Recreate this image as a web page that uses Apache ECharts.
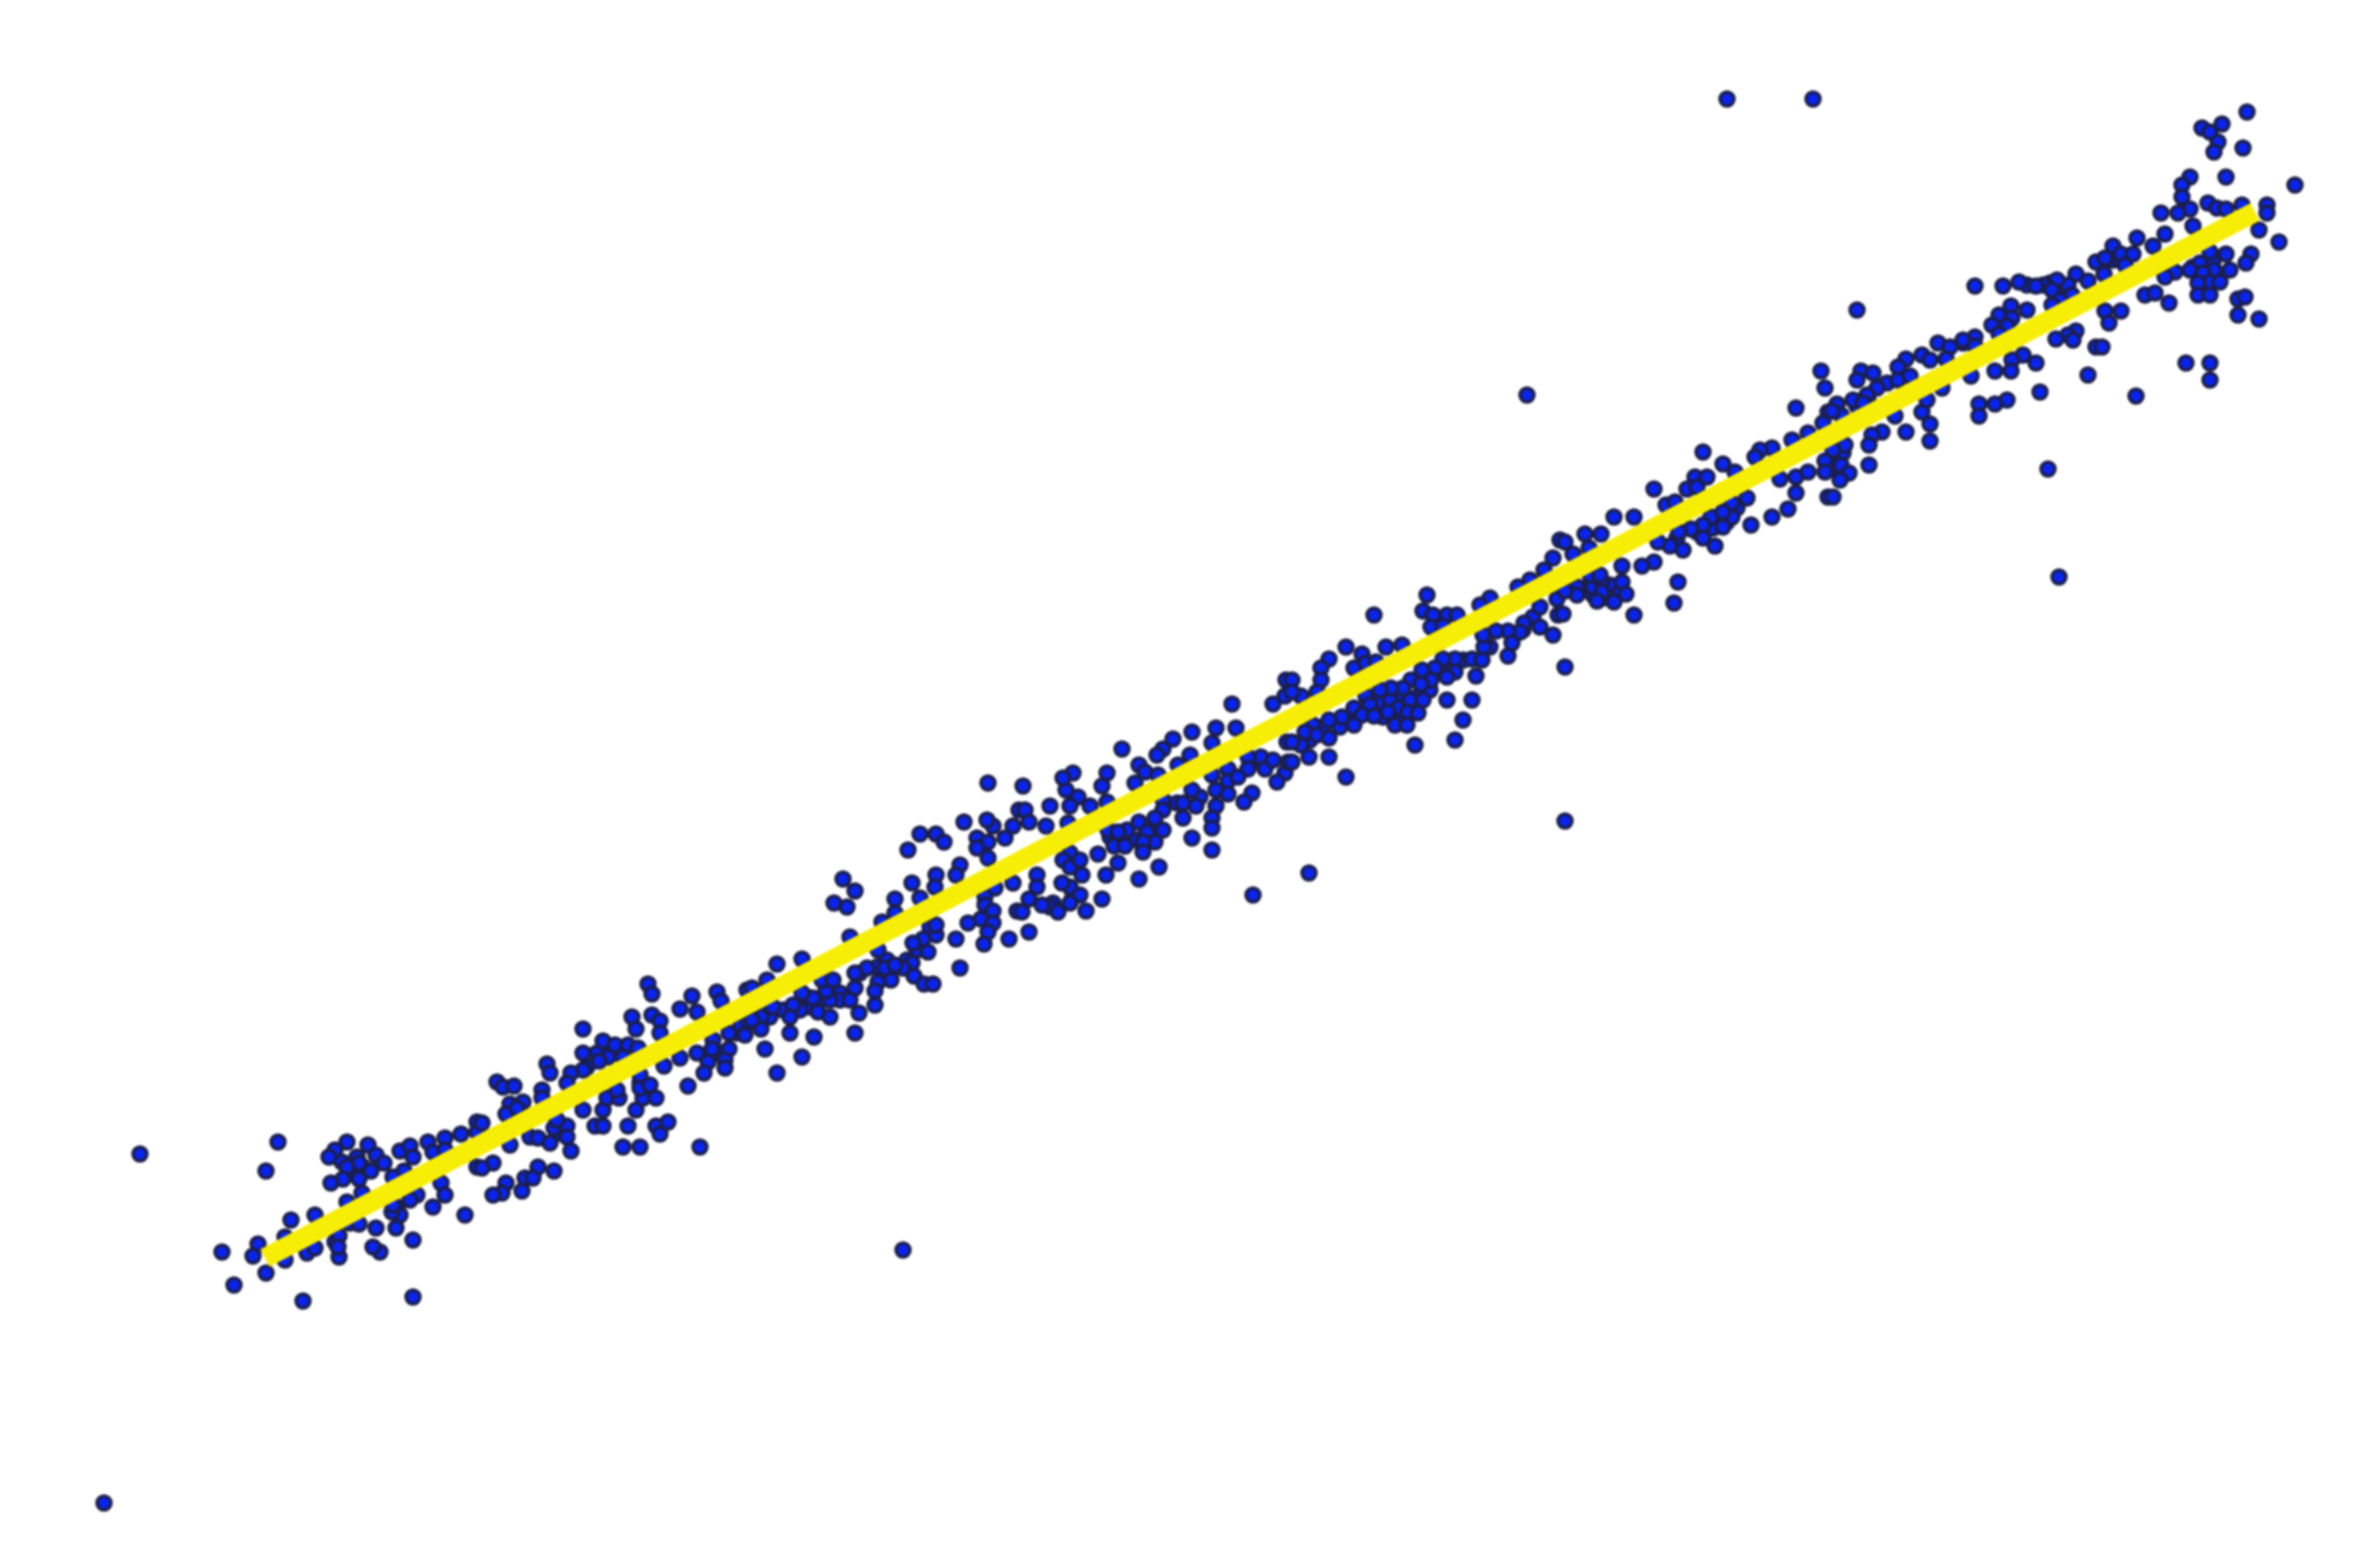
<!DOCTYPE html>
<html>
<head>
<meta charset="utf-8">
<style>
html,body{margin:0;padding:0;background:#fff;}
#chart{width:2357px;height:1559px;filter:blur(1.2px);}
</style>
<script src="https://cdn.jsdelivr.net/npm/echarts@6/dist/echarts.min.js"></script>
</head>
<body>
<div id="chart"></div>
<script>
var outliers=[[278,1142],[266,1171],[222,1252],[234,1285],[303,1301],[413,1297],[140,1154],[104,1503],[903,1250],[1309,873],[1565,667],[1565,821],[1527,395],[1727,99],[1813,99],[2059,577],[2136,396],[2048,469]];
var band1=[[347,1142],[335,1150],[329,1157],[368,1145],[376,1155],[384,1163],[359,1163],[347,1167],[371,1171],[359,1179],[343,1179],[331,1183],[400,1151],[410,1146],[413,1157],[428,1142],[433,1152],[445,1138],[445,1150],[461,1134],[477,1122],[477,1132],[404,1171],[393,1177],[441,1183],[445,1195],[417,1195],[410,1200],[433,1207],[465,1215],[477,1167],[362,1193],[347,1202],[400,1215],[392,1212],[393,1205],[396,1228],[376,1228],[359,1224],[339,1236],[413,1240],[380,1252],[373,1247],[339,1257],[338,1247],[307,1253],[315,1248],[315,1215],[291,1220],[285,1237],[258,1244],[253,1256],[266,1273],[285,1260]];
var band2=[[648,984],[652,994],[692,996],[680,1009],[697,1012],[717,992],[721,1001],[747,990],[632,1017],[636,1029],[652,1015],[660,1021],[660,1033],[583,1029],[603,1041],[615,1045],[628,1045],[638,1048],[623,1057],[608,1057],[599,1061],[583,1053],[583,1070],[571,1073],[567,1083],[547,1064],[550,1073],[497,1082],[503,1087],[514,1086],[542,1090],[542,1098],[523,1102],[510,1104],[506,1114],[517,1108],[482,1123],[510,1145],[493,1163],[482,1168],[538,1167],[554,1171],[525,1178],[533,1178],[506,1183],[502,1193],[493,1195],[522,1191],[538,1138],[550,1143],[554,1128],[567,1126],[567,1137],[557,1120],[571,1151],[583,1110],[595,1126],[603,1126],[603,1110],[607,1098],[619,1098],[617,1090],[628,1126],[636,1110],[643,1098],[656,1098],[640,1088],[650,1085],[640,1075],[656,1126],[668,1122],[660,1134],[623,1147],[640,1147],[700,1147],[688,1086],[664,1066],[680,1058],[697,1053],[712,1049],[729,1049],[708,1062],[725,1060],[725,1068],[704,1073],[729,1033],[741,1025],[745,1035],[748,1022]];
var band3=[[988,783],[964,822],[993,826],[987,820],[1013,826],[1019,810],[920,834],[936,834],[944,842],[908,850],[977,838],[988,842],[1005,838],[977,848],[988,858],[960,865],[956,875],[936,875],[935,887],[912,883],[920,898],[895,899],[843,879],[855,891],[834,903],[847,907],[1013,883],[995,888],[985,897],[985,905],[993,911],[981,919],[968,923],[993,923],[1017,911],[988,932],[956,939],[984,944],[1009,939],[960,968],[936,935],[936,925],[923,939],[913,943],[928,952],[912,963],[903,968],[914,976],[924,984],[933,984],[891,980],[885,968],[878,950],[867,968],[855,973],[878,982],[875,991],[875,1005],[855,988],[850,1000],[859,1013],[855,1033],[830,1000],[826,991],[822,980],[833,980],[813,998],[818,1012],[830,1017],[814,1037],[802,993],[793,1005],[790,1017],[790,1033],[773,1007],[761,1017],[761,1029],[752,1020],[765,1049],[802,1057],[777,1073],[777,964],[802,959],[767,980],[752,988],[895,965],[882,922],[850,937],[895,913]];
var band4=[[1286,680],[1285,696],[1273,704],[1232,704],[1236,728],[1216,728],[1192,732],[1212,743],[1173,739],[1163,749],[1157,755],[1122,749],[1139,765],[1145,772],[1135,783],[1107,773],[1102,786],[1073,773],[1066,790],[1063,778],[1023,786],[1078,797],[1050,806],[1070,806],[1090,806],[1107,802],[1025,810],[1029,822],[1046,826],[1068,823],[1190,755],[1178,765],[1158,775],[1287,742],[1261,757],[1248,757],[1248,769],[1265,769],[1273,760],[1285,773],[1277,782],[1288,762],[1228,769],[1228,781],[1238,777],[1212,775],[1216,790],[1228,794],[1252,793],[1244,802],[1196,806],[1192,790],[1216,806],[1183,803],[1183,818],[1212,818],[1212,828],[1192,838],[1212,850],[1163,810],[1155,818],[1139,822],[1127,830],[1163,830],[1147,832],[1155,842],[1143,842],[1143,852],[1114,846],[1125,846],[1098,854],[1118,863],[1159,867],[1106,875],[1139,879],[1253,895],[1102,899],[1086,911],[1070,867],[1080,860],[1082,875],[1037,875],[1070,887],[1062,883],[1080,895],[1070,903],[1037,887],[1029,899],[1050,907],[1058,912],[1042,905],[1022,912],[1029,932],[1108,830],[1118,832]];
var band5=[[1560,540],[1553,558],[1544,570],[1530,580],[1518,587],[1490,598],[1480,605],[1427,595],[1423,611],[1374,615],[1447,615],[1433,615],[1457,615],[1431,627],[1443,626],[1346,647],[1386,647],[1402,645],[1362,654],[1329,659],[1321,668],[1354,668],[1366,663],[1376,662],[1321,680],[1292,680],[1301,696],[1317,692],[1292,692],[1557,599],[1540,607],[1558,615],[1524,623],[1520,632],[1540,627],[1553,635],[1508,631],[1496,631],[1484,647],[1512,643],[1508,656],[1483,635],[1472,659],[1482,660],[1455,659],[1443,659],[1435,668],[1455,672],[1476,676],[1447,677],[1431,680],[1422,670],[1411,680],[1421,684],[1403,688],[1391,688],[1366,696],[1380,690],[1423,700],[1447,700],[1472,700],[1370,705],[1398,708],[1388,712],[1408,712],[1418,713],[1354,708],[1362,715],[1374,716],[1342,717],[1329,720],[1354,725],[1395,725],[1407,725],[1463,720],[1455,740],[1415,745],[1313,725],[1305,732],[1317,735],[1329,738],[1301,745],[1292,742],[1309,757],[1329,757],[1346,777],[1292,762]];
var band6=[[1821,371],[1825,388],[1796,408],[1828,412],[1823,423],[1808,433],[1792,440],[1772,448],[1760,450],[1755,457],[1703,452],[1723,464],[1735,472],[1695,477],[1707,477],[1687,489],[1697,487],[1654,489],[1666,505],[1675,502],[1614,517],[1634,517],[1585,534],[1601,534],[1565,542],[1589,548],[1573,554],[1825,461],[1796,477],[1808,472],[1825,472],[1796,493],[1780,479],[1828,497],[1788,509],[1772,517],[1751,525],[1747,498],[1732,517],[1732,503],[1711,517],[1723,512],[1723,527],[1703,525],[1691,529],[1679,532],[1703,538],[1715,546],[1670,546],[1683,550],[1658,542],[1654,562],[1642,566],[1622,566],[1678,582],[1674,603],[1593,587],[1622,582],[1626,594],[1602,582],[1602,592],[1614,602],[1597,601],[1634,615],[1577,587],[1577,595],[1565,591],[1563,614],[1590,575],[1600,575]];
var band7=[[2096,262],[2076,274],[2068,285],[2057,280],[2052,290],[2072,295],[2060,300],[2052,305],[2088,281],[2036,286],[2019,282],[2003,286],[1975,286],[2011,306],[2027,310],[1999,315],[1992,325],[2012,318],[2007,326],[1999,334],[1975,337],[1963,340],[1975,346],[1938,343],[1950,347],[1857,310],[1922,355],[1946,359],[1906,359],[1930,360],[1898,367],[1861,371],[1873,373],[1898,380],[1910,376],[1857,380],[1877,388],[1867,395],[1853,400],[1837,404],[1863,403],[1841,415],[1832,411],[2076,331],[2068,335],[2056,339],[2073,340],[2096,347],[2088,375],[2023,355],[2036,363],[2012,360],[2011,371],[1995,371],[1971,376],[2040,392],[2007,400],[1995,404],[1979,404],[1979,416],[1922,412],[1927,400],[1930,424],[1930,441],[1906,432],[1895,416],[1882,432],[1872,435],[1869,445],[1869,465],[1845,445],[1833,450],[1841,465],[1849,473],[1840,480],[1833,497],[1942,388]];
var band8=[[2247,112],[2222,124],[2202,128],[2210,132],[2218,142],[2214,152],[2243,148],[2226,177],[2190,177],[2182,185],[2182,197],[2295,185],[2267,205],[2267,213],[2208,203],[2217,208],[2226,209],[2242,205],[2190,209],[2178,213],[2161,213],[2193,226],[2259,230],[2279,242],[2165,234],[2137,238],[2153,246],[2113,246],[2121,254],[2133,254],[2105,258],[2125,265],[2104,274],[2210,252],[2226,254],[2251,254],[2246,263],[2200,263],[2190,270],[2214,270],[2230,270],[2203,273],[2175,272],[2165,277],[2210,282],[2198,283],[2220,282],[2145,295],[2155,293],[2198,295],[2210,295],[2169,303],[2238,299],[2245,297],[2238,315],[2259,319],[2105,311],[2121,311],[2109,323],[2186,363],[2210,363],[2210,380],[2102,347]];
var denseLow=[[353,1170],[363,1167],[357,1157],[342,1162],[335,1242],[350,1223],[397,1207],[530,1137],[560,1133],[713,1040],[720,1053],[737,1033],[647,1090],[640,1083],[597,1053],[613,1050],[587,1067],[907,960],[887,960],[877,967],[860,973],[840,993],[810,1007],[800,1010],[783,1010],[770,1017],[760,1010],[807,997],[840,1000],[820,1000],[917,950],[930,927]];
var denseMid=[[1200,797],[1177,803],[1163,800],[1137,840],[1120,837],[1153,830],[1110,837],[1070,853],[1063,860],[1073,897],[1053,903],[1250,763],[1267,763],[1403,697],[1390,700],[1417,697],[1430,690],[1410,700],[1377,703],[1357,717],[1340,727],[1323,733],[1310,740],[1403,717],[1383,717],[1440,667],[1463,660],[1490,647],[1523,630],[1533,617],[1323,727]];
var denseHigh=[[1713,528],[1697,532],[1677,538],[1727,522],[1737,508],[1593,595],[1610,585],[1580,588],[1620,592],[1603,598],[1843,453],[1840,473],[1835,466],[1868,400],[1857,406],[1887,383],[1963,343],[2050,283],[2043,285],[2060,285],[2027,285],[2213,262],[2193,267],[2217,280],[2200,280],[2103,263],[2113,260],[2120,260],[2207,273],[2203,290]];
var fitLine=[[265,1258],[2255,212]];

var allPoints=[].concat(denseLow,denseMid,denseHigh,outliers,band1,band2,band3,band4,band5,band6,band7,band8);
var chart=echarts.init(document.getElementById('chart'),null,{renderer:'canvas'});
chart.setOption({
  animation:false,
  backgroundColor:'#ffffff',
  grid:{left:0,right:0,top:0,bottom:0},
  tooltip:{show:false},
  xAxis:{type:'value',min:0,max:2357,show:false},
  yAxis:{type:'value',min:0,max:1559,inverse:true,show:false},
  series:[
    {type:'scatter',data:allPoints,symbol:'circle',symbolSize:14,silent:true,z:2,
     itemStyle:{color:'#0a24ee',borderColor:'#1b1f4d',borderWidth:3.5,opacity:1}},
    {type:'line',data:fitLine,symbol:'none',silent:true,z:3,
     lineStyle:{color:'#f7ee08',width:20,cap:'butt'}}
  ]
});
</script>
</body>
</html>
